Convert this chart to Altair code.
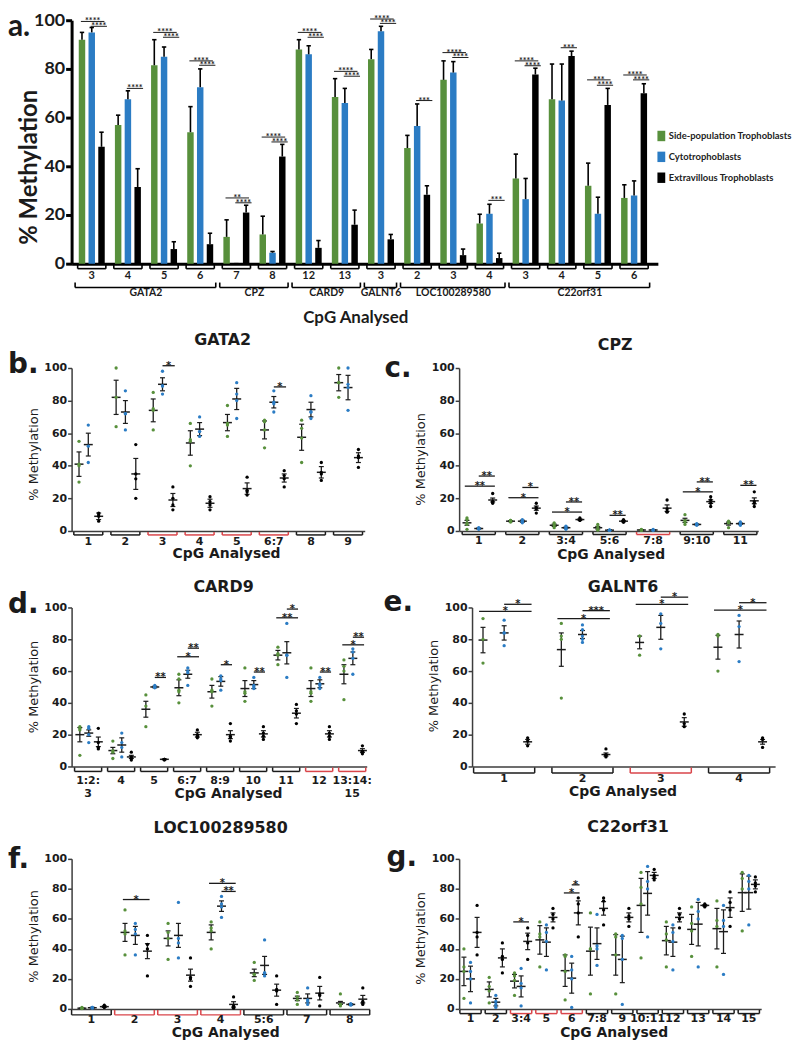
import altair as alt
import pandas as pd

SERIES = ["Side-population Trophoblasts", "Cytotrophoblasts", "Extravillous Trophoblasts"]
SERIES_COLORS = ["#58903c", "#2b7cc4", "#000000"]
HILITE = "#d9454a"
INK = "#1b1b1b"
AX = "#3d3d3d"
FA = "Lato"
FB = "DejaVu Sans"
YTICKS = [0, 20, 40, 60, 80, 100]

# ---------------- panel a : bar chart ----------------
A_GENES = ["GATA2", "CPZ", "CARD9", "GALNT6", "LOC100289580", "C22orf31"]
A_GENE_FIRST = [0, 4, 6, 8, 9, 12]
A_GENE_LAST = [3, 5, 7, 8, 11, 15]
A_CPG = ["3", "4", "5", "6", "7", "8", "12", "13", "3", "2", "3", "4", "3", "4", "5", "6"]
A_SP = [92, 57, 81.5, 54, 11, 12, 88, 68.5, 84, 47.5, 75.5, 16.5, 35, 67.5, 32, 27]
A_SP_ERR = [95, 61, 92, 64.5, 18, 19.5, 92, 76, 88, 52.7, 83.3, 20.3, 45, 82, 41.3, 32.4]
A_CT = [95, 67.5, 85, 72.5, 0, 4.5, 86, 66, 95.5, 56.5, 78.5, 20.5, 26.5, 67, 20.5, 28]
A_CT_ERR = [97, 71, 89, 80, 0, 5, 89.5, 72, 97.5, 65.6, 83, 24.4, 35, 82, 27.3, 34]
A_EVT = [48, 31.5, 6, 8, 21, 44, 6.5, 16, 10, 28.3, 3.5, 2.3, 77.7, 85.3, 65.2, 70]
A_EVT_ERR = [54, 39, 9, 12.5, 24, 49, 9.5, 22, 12, 32, 6, 4.3, 80.3, 87.3, 72, 73.9]
A_SIG_CPG = [0, 0, 1, 2, 2, 3, 3, 4, 4, 5, 5, 6, 6, 7, 7, 8, 8, 9, 10, 10, 11, 12, 12, 13, 14, 14, 15, 15]
A_SIG_PAIR = [0, 1, 1, 0, 1, 0, 1, 0, 1, 0, 1, 0, 1, 0, 1, 0, 1, 1, 0, 1, 1, 0, 1, 1, 0, 1, 0, 1]
A_SIG_Y = [99.5, 97.5, 72, 95, 93, 83.3, 81.5, 27, 25, 52, 50, 95, 93, 79, 77, 100.5, 98.7, 67,
           86.7, 84.7, 26, 83.3, 81.3, 88.7, 75.5, 73.3, 77.5, 75.5]
A_SIG_TXT = ["****", "****", "****", "****", "****", "****", "****", "**", "****", "****", "****",
             "****", "****", "****", "****", "****", "****", "***", "****", "****", "***", "****",
             "****", "***", "***", "****", "****", "****"]

# ---------------- panel b : GATA2 ----------------
B_CPG = ["1", "2", "3", "4", "5", "6:7", "8", "9"]
B_RED = [0, 0, 1, 1, 1, 1, 0, 0]
B_MEAN_SP = [41, 82, 74, 54, 66.5, 62, 57.5, 91]
B_SEM_SP = [7.5, 10.5, 7, 7.5, 5, 5.5, 8, 5]
B_MEAN_CT = [53, 73, 90, 62.5, 81, 79, 74.5, 88]
B_SEM_CT = [7, 7, 4, 4, 6.5, 3.5, 4.5, 7.5]
B_MEAN_EVT = [9, 35, 19, 17, 26, 32.5, 36, 45]
B_SEM_EVT = [2, 9.5, 4, 2.5, 3.5, 2.5, 3.5, 3]
B_PTS_SP = [[55, 30, 40, 41], [100, 64, 82], [85, 62, 74, 75], [66, 40, 55, 56], [77, 58, 65, 66],
            [68, 51, 62, 67], [68, 42, 57, 63], [100, 82, 91, 91]]
B_PTS_CT = [[65, 42, 52], [86, 62, 72, 72], [98, 84, 89, 89], [70, 58, 61, 61], [91, 69, 80, 84],
            [86, 73, 78, 79], [83, 69, 73, 73], [100, 74, 88, 90]]
B_PTS_EVT = [[11, 6, 9, 10], [53, 20, 35, 32], [27, 13, 16, 20], [21, 13, 16, 18], [33, 22, 24, 25],
             [37, 27, 32, 34], [42, 31, 35, 36], [50, 39, 45, 46]]
B_SIG_CPG = [2, 5]
B_SIG_PAIR = [1, 1]
B_SIG_Y = [101.4, 88.4]
B_SIG_TXT = ["*", "*"]

# ---------------- panel c : CPZ ----------------
C_CPG = ["1", "2", "3:4", "5:6", "7:8", "9:10", "11"]
C_RED = [0, 0, 0, 0, 1, 0, 0]
C_MEAN_SP = [5, 6, 3.5, 2, 0.6, 6.5, 4.5]
C_SEM_SP = [1.5, 0.3, 0.7, 0.8, 0.2, 1.3, 0.9]
C_MEAN_CT = [1.5, 6, 2, 0.5, 0.6, 4, 4.5]
C_SEM_CT = [0.3, 0.6, 0.4, 0.1, 0.2, 0.3, 0.4]
C_MEAN_EVT = [19, 14, 7, 6, 14, 18, 18.5]
C_SEM_EVT = [1.2, 1.3, 0.4, 0.4, 2, 1.1, 1.8]
C_PTS_SP = [[8, 7, 5, 1, 4], [6, 6.5, 5.5, 6.5], [5, 2, 4, 3], [4, 1, 2.5, 0.5], [1, 0.5, 0.3, 0.6],
            [10, 4, 5.5, 6.5], [6, 2, 5, 5]]
C_PTS_CT = [[2, 1, 1.5, 1.5], [5, 7, 6, 6], [1.5, 2.5, 3, 1], [0.5, 0.5, 0.5, 0.5], [0.5, 0.9, 0.4],
            [4, 3.5, 4.5, 4], [3.5, 5, 5.5, 4]]
C_PTS_EVT = [[23, 18, 17, 18], [17, 11, 13.5, 14.5], [8, 6.5, 7, 6.5], [7, 6, 5.5, 5.5],
             [19, 12, 11.5, 13.5], [15, 19, 17, 21], [24, 15, 17, 18]]
C_SIG_CPG = [0, 0, 1, 1, 2, 2, 3, 5, 5, 6]
C_SIG_PAIR = [0, 1, 0, 1, 0, 1, 1, 0, 1, 1]
C_SIG_Y = [27.5, 33.7, 20.4, 26.7, 11.6, 17.8, 9.6, 24, 30.1, 28]
C_SIG_TXT = ["**", "**", "*", "*", "*", "**", "**", "*", "**", "**"]

# ---------------- panel d : CARD9 ----------------
D_CPG = ["1:2:\n3", "4", "5", "6:7", "8:9", "10", "11", "12", "13:14:\n15"]
D_RED = [0, 0, 0, 0, 0, 0, 0, 1, 1]
D_MEAN_SP = [20, 10, 36, 49.5, 47, 49, 70, 49, 58]
D_SEM_SP = [4.5, 2, 5, 5, 4, 5, 3, 5, 6]
D_MEAN_CT = [21, 13.5, 50, 58, 53.5, 51.5, 71.5, 52, 68]
D_SEM_CT = [2, 4.5, 0.5, 2.5, 3, 2.5, 7, 2.5, 4]
D_MEAN_EVT = [15.5, 6, 4.5, 20, 20, 20.5, 33.5, 20.5, 10]
D_SEM_EVT = [3, 1, 0.3, 1.5, 2.5, 2, 3, 2, 1.2]
D_PTS_SP = [[25, 23, 7, 24], [16, 5, 9, 10], [45, 25, 38], [58, 40, 48, 55, 47], [55, 38, 48, 47],
            [62, 41, 46, 47], [75, 64, 70, 71], [62, 41, 46, 47], [67, 42, 60, 63]]
D_PTS_CT = [[24, 20, 15, 25], [21, 6, 12, 15], [50, 49.5, 51, 50], [62, 51, 59, 60], [57, 48, 54, 55],
            [56, 49, 51, 50], [90, 56, 70, 70], [56, 49, 52, 51], [74, 58, 68, 72]]
D_PTS_EVT = [[24, 12, 11, 15], [9, 4, 6, 5], [4.5, 4, 4.5, 4.5], [23, 18, 20, 19], [27, 16, 19, 18],
             [25, 17, 19, 21], [39, 27, 33, 35], [25, 17, 19, 21], [13, 8, 9.5, 9.5]]
D_SIG_CPG = [2, 3, 3, 4, 5, 6, 6, 7, 8, 8]
D_SIG_PAIR = [1, 0, 1, 1, 1, 0, 1, 1, 0, 1]
D_SIG_Y = [56, 69, 74.4, 64, 59.4, 93.5, 99, 59.4, 76.5, 81.3]
D_SIG_TXT = ["**", "*", "**", "*", "**", "**", "*", "**", "*", "**"]

# ---------------- panel e : GALNT6 ----------------
E_CPG = ["1", "2", "3", "4"]
E_RED = [0, 0, 1, 0]
E_MEAN_SP = [79.5, 73.5, 78, 75]
E_SEM_SP = [8, 10.5, 4, 7.5]
E_MEAN_CT = [84, 83, 87.5, 83]
E_SEM_CT = [4.5, 2.5, 7.5, 8.5]
E_MEAN_EVT = [15.5, 7.5, 28, 15.5]
E_SEM_EVT = [1.5, 1, 2.7, 1.5]
E_PTS_SP = [[93, 65, 80], [90, 43, 80, 82], [82, 70, 82], [83, 60, 82]]
E_PTS_CT = [[92, 76, 84, 84], [89, 78, 82, 86, 80], [96, 74, 90], [95, 66, 88]]
E_PTS_EVT = [[18, 13, 16], [11, 6, 7, 7.5], [33, 25, 27], [18, 12, 17]]
E_SIG_CPG = [0, 0, 1, 1, 2, 2, 3, 3]
E_SIG_PAIR = [0, 1, 0, 1, 0, 1, 0, 1]
E_SIG_Y = [97.5, 102, 93, 98, 102, 106.5, 98.3, 103]
E_SIG_TXT = ["*", "*", "*", "***", "*", "*", "*", "*"]

# ---------------- panel f : LOC100289580 ----------------
F_CPG = ["1", "2", "3", "4", "5:6", "7", "8"]
F_RED = [0, 1, 1, 1, 0, 0, 0]
F_MEAN_SP = [0.5, 51, 47, 51, 24, 7, 4]
F_SEM_SP = [0.3, 6, 5, 5, 2.5, 1.5, 1]
F_MEAN_CT = [0.8, 49, 49, 68.5, 29, 7, 3]
F_SEM_CT = [0.3, 6, 8, 3.5, 6, 3, 0.5]
F_MEAN_EVT = [1.5, 38.5, 22.5, 3, 12.5, 10.5, 6.5]
F_SEM_EVT = [0.5, 5, 4, 1.8, 4, 4.5, 2.5]
F_PTS_SP = [[1, 0.5, 0.2, 0.5], [66, 36, 50, 52], [57, 33, 47, 51], [58, 40, 52, 54], [31, 19, 23, 23],
            [11, 3, 6, 8], [10, 2, 3, 3]]
F_PTS_CT = [[1, 0.5, 1], [57, 36, 50, 53], [71, 34, 44, 47], [75, 61, 68, 70], [46, 22, 24, 24],
            [14, 3, 5, 6], [2.5, 3, 3.5, 3]]
F_PTS_EVT = [[2.5, 1, 1.5, 1.2], [49, 22, 40, 43], [34, 15, 20, 21], [8, 0.5, 2, 1.5], [22, 3, 12, 13],
             [21, 2, 9, 10], [14, 3, 4, 5]]
F_SIG_CPG = [1, 3, 3]
F_SIG_PAIR = [0, 0, 1]
F_SIG_Y = [72.9, 83.7, 78.3]
F_SIG_TXT = ["*", "*", "**"]

# ---------------- panel g : C22orf31 ----------------
G_CPG = ["1", "2", "3:4", "5", "6", "7:8", "9", "10:11", "12", "13", "14", "15"]
G_RED = [0, 0, 1, 1, 1, 0, 0, 0, 0, 0, 0, 0]
G_MEAN_SP = [25, 13, 18.5, 46, 25.5, 38.5, 36, 69, 45.5, 53, 53.5, 77.5]
G_SEM_SP = [9.5, 5, 4.5, 9.5, 10.5, 16, 13.5, 18, 9.5, 10, 13.5, 12.5]
G_MEAN_CT = [20, 4.5, 15, 44.5, 20.5, 43.5, 33, 77, 44.5, 56.5, 51.5, 77.5]
G_SEM_CT = [8.5, 2.5, 7, 9.5, 10, 10.5, 15.5, 14.5, 9.5, 14.5, 14.5, 11]
G_MEAN_EVT = [51, 34, 45, 61, 64, 67, 61, 89, 61, 69, 67.5, 83]
G_SEM_EVT = [10, 6, 5.5, 3, 8, 4.5, 3, 2, 3, 0.5, 6.5, 3]
G_PTS_SP = [[40, 7, 25, 28], [21, 4, 12, 15], [24, 9, 19, 22], [58, 28, 48, 50], [36, 6, 25, 35],
            [64, 10, 40, 40], [50, 10, 36, 48], [91, 34, 70, 81], [58, 28, 46, 50], [68, 35, 52, 57],
            [72, 28, 55, 59], [91, 52, 80, 87]]
G_PTS_CT = [[31, 4, 20, 25], [9, 1, 3, 5], [27, 2, 14, 17], [56, 26, 45, 51], [35, 1, 20, 26],
            [63, 29, 40, 42], [49, 3, 33, 47], [95, 48, 80, 85], [56, 26, 45, 51], [73, 28, 60, 65],
            [69, 23, 55, 59], [89, 56, 80, 85]]
G_PTS_EVT = [[69, 36, 48, 51], [44, 24, 33, 35], [54, 33, 44, 49], [67, 54, 60, 63], [74, 48, 64, 70],
             [74, 56, 66, 72], [67, 55, 60, 62], [93, 86, 89, 88], [67, 54, 60, 63], [70, 68, 69, 69],
             [78, 55, 66, 71], [88, 78, 82, 84]]
G_SIG_CPG = [2, 4, 4]
G_SIG_PAIR = [0, 0, 1]
G_SIG_Y = [58, 77.3, 82.7]
G_SIG_TXT = ["*", "*", "*"]


def label(text, x, y, size, font, weight="bold", align="center", angle=0, baseline="alphabetic", color=INK):
    return alt.Chart(pd.DataFrame({"t": [text]})).mark_text(
        font=font, fontSize=size, fontWeight=weight, align=align, baseline=baseline,
        angle=angle, color=color
    ).encode(x=alt.value(x), y=alt.value(y), text="t:N")


def scatter_panel(letter, gene, cpg, red, means, sems, pts, sig, lay):
    W, H = lay["w"], lay["h"]
    n = len(cpg)
    offs = lay["offs"]
    xs = alt.Scale(domain=lay["xdom"], nice=False, zero=False)
    ys = alt.Scale(domain=[0, 100], nice=False, zero=False)
    xax = alt.Axis(labels=False, ticks=False, grid=False, title=None, domainColor=AX, domainWidth=1.5)
    yax = alt.Axis(values=YTICKS, grid=False, title=None, domainColor=AX, domainWidth=1.5,
                   tickColor=AX, tickWidth=1.5, tickSize=4, labelFont=FB, labelFontSize=11,
                   labelFontWeight="bold", labelColor=INK, labelPadding=1)

    def X(f):
        return alt.X(f, scale=xs, axis=xax)

    def Y(f):
        return alt.Y(f, scale=ys, axis=yax)

    prow, mrow = [], []
    for si, s in enumerate(SERIES):
        for gi in range(n):
            for v in pts[si][gi]:
                prow.append({"x": gi + offs[si], "y": v, "s": s})
            m, e = means[si][gi], sems[si][gi]
            mrow.append({"x": gi + offs[si], "m": m, "lo": m - e, "hi": m + e})
    pdf = pd.DataFrame(prow)
    mdf = pd.DataFrame(mrow)
    hw = lay["half"]
    bdf = pd.DataFrame({
        "x1": [i - hw for i in range(n)], "x2": [i + hw for i in range(n)],
        "xc": list(range(n)), "y0": [0] * n, "lab": cpg,
        "col": [HILITE if r else INK for r in red],
    })
    sc, sp, sy, st = sig
    sdf = pd.DataFrame({
        "x1": [g + offs[p] - (0.05 if p == 0 else 0.0) for g, p in zip(sc, sp)],
        "x2": [g + offs[2] + 0.05 for g in sc],
        "y": sy, "txt": st,
    })
    sdf["xc"] = (sdf["x1"] + sdf["x2"]) / 2

    dots = alt.Chart(pdf).mark_circle(size=11, opacity=1).encode(
        x=X("x:Q"), y=Y("y:Q"),
        color=alt.Color("s:N", scale=alt.Scale(domain=SERIES, range=SERIES_COLORS), legend=None))
    semr = alt.Chart(mdf).mark_rule(color=INK, strokeWidth=1.3).encode(
        x=X("x:Q"), y=Y("lo:Q"), y2="hi:Q")
    meanr = alt.Chart(mdf).mark_rule(color=INK, strokeWidth=1.5, xOffset=-4.5, x2Offset=4.5).encode(
        x=X("x:Q"), x2="x:Q", y=Y("m:Q"))
    caplo = alt.Chart(mdf).mark_rule(color=INK, strokeWidth=1.2, xOffset=-2.5, x2Offset=2.5).encode(
        x=X("x:Q"), x2="x:Q", y=Y("lo:Q"))
    caphi = alt.Chart(mdf).mark_rule(color=INK, strokeWidth=1.2, xOffset=-2.5, x2Offset=2.5).encode(
        x=X("x:Q"), x2="x:Q", y=Y("hi:Q"))
    brh = alt.Chart(bdf).mark_rule(strokeWidth=1.5, yOffset=lay["br"]).encode(
        x=X("x1:Q"), x2="x2:Q", y=Y("y0:Q"), stroke=alt.Stroke("col:N", scale=None))
    brl = alt.Chart(bdf).mark_rule(strokeWidth=1.5, yOffset=1, y2Offset=lay["br"]).encode(
        x=X("x1:Q"), y=Y("y0:Q"), y2="y0:Q", stroke=alt.Stroke("col:N", scale=None))
    brr = alt.Chart(bdf).mark_rule(strokeWidth=1.5, yOffset=1, y2Offset=lay["br"]).encode(
        x=X("x2:Q"), y=Y("y0:Q"), y2="y0:Q", stroke=alt.Stroke("col:N", scale=None))
    labs = alt.Chart(bdf).mark_text(font=FB, fontSize=11, fontWeight="bold", color=INK,
                                    baseline="alphabetic", dy=lay["lab"], lineBreak="\n").encode(
        x=X("xc:Q"), y=Y("y0:Q"), text="lab:N")
    sigr = alt.Chart(sdf).mark_rule(color=INK, strokeWidth=1.3).encode(
        x=X("x1:Q"), x2="x2:Q", y=Y("y:Q"))
    sigt = alt.Chart(sdf).mark_text(font=FB, fontSize=10, fontWeight="bold", color=INK,
                                    baseline="alphabetic", dy=3).encode(
        x=X("xc:Q"), y=Y("y:Q"), text="txt:N")

    layers = [brh, brl, brr, labs, semr, meanr, caplo, caphi, dots, sigr, sigt,
              label(gene, lay["tx"], lay["ty"], 16, FB),
              label(letter, lay["lx"], lay["ly"], 28, FB, align="left"),
              label("% Methylation", -38, lay["yty"], 13, FB, weight="normal", angle=270, baseline="middle"),
              label("CpG Analysed", lay["xtx"], H + lay["xty"], 14, FB)]
    return alt.layer(*layers).properties(width=W, height=H)


def panel_a():
    W, H = 590, 245
    n = len(A_CPG)
    offs = (-0.27, 0.0, 0.27)
    xs = alt.Scale(domain=[-0.42, 15.52], nice=False, zero=False)
    ys = alt.Scale(domain=[0, 100], nice=False, zero=False)
    xax = alt.Axis(labels=False, ticks=False, grid=False, title=None, domainColor="black", domainWidth=3)
    yax = alt.Axis(values=YTICKS, grid=False, title=None, domainColor="black", domainWidth=3,
                   tickColor="black", tickWidth=3, tickSize=6, labelFont=FA, labelFontSize=18,
                   labelFontWeight="bold", labelColor=INK, labelPadding=1)

    def X(f):
        return alt.X(f, scale=xs, axis=xax)

    def Y(f, **kw):
        return alt.Y(f, scale=ys, axis=yax, **kw)

    vals = [A_SP, A_CT, A_EVT]
    errs = [A_SP_ERR, A_CT_ERR, A_EVT_ERR]
    rows = []
    for si, s in enumerate(SERIES):
        for gi in range(n):
            rows.append({"x": gi + offs[si], "v": vals[si][gi], "e": errs[si][gi], "s": s})
    df = pd.DataFrame(rows)
    bdf = pd.DataFrame({"x1": [i - 0.39 for i in range(n)], "x2": [i + 0.39 for i in range(n)],
                        "xc": list(range(n)), "y0": [0] * n, "lab": A_CPG})
    gdf = pd.DataFrame({"x1": [f - 0.46 for f in A_GENE_FIRST], "x2": [l + 0.43 for l in A_GENE_LAST],
                        "xc": [(f + l) / 2 for f, l in zip(A_GENE_FIRST, A_GENE_LAST)],
                        "y0": [0] * len(A_GENES), "lab": A_GENES})
    sdf = pd.DataFrame({
        "x1": [g + (-0.3 if p == 0 else -0.03) for g, p in zip(A_SIG_CPG, A_SIG_PAIR)],
        "x2": [g + (0.35 if p == 0 else 0.42) for g, p in zip(A_SIG_CPG, A_SIG_PAIR)],
        "y": A_SIG_Y, "txt": A_SIG_TXT})
    sdf["xc"] = (sdf["x1"] + sdf["x2"]) / 2

    legend = alt.Legend(orient="none", legendX=588, legendY=111, title=None, labelFont=FA,
                        labelFontSize=9.5, labelFontWeight="bold", labelColor="#222",
                        symbolType="M-0.75,-1L0.75,-1L0.75,1L-0.75,1Z", symbolSize=110,
                        symbolStrokeWidth=0, rowPadding=10, labelOffset=2, padding=0)
    bars = alt.Chart(df).mark_bar(size=6.5, orient="vertical").encode(
        x=X("x:Q"), y=Y("v:Q", stack=None),
        color=alt.Color("s:N", scale=alt.Scale(domain=SERIES, range=SERIES_COLORS), legend=legend))
    err = alt.Chart(df).mark_rule(color="black", strokeWidth=1.6).encode(x=X("x:Q"), y=Y("v:Q"), y2="e:Q")
    cap = alt.Chart(df).mark_rule(color="black", strokeWidth=1.6, xOffset=-2.2, x2Offset=2.2).encode(
        x=X("x:Q"), x2="x:Q", y=Y("e:Q"))
    sigr = alt.Chart(sdf).mark_rule(color=INK, strokeWidth=1).encode(x=X("x1:Q"), x2="x2:Q", y=Y("y:Q"))
    sigt = alt.Chart(sdf).mark_text(font=FA, fontSize=9, fontWeight="bold", color=INK,
                                    baseline="alphabetic", dy=3).encode(x=X("xc:Q"), y=Y("y:Q"), text="txt:N")
    brh = alt.Chart(bdf).mark_rule(color="black", strokeWidth=1.6, yOffset=5).encode(
        x=X("x1:Q"), x2="x2:Q", y=Y("y0:Q"))
    brl = alt.Chart(bdf).mark_rule(color="black", strokeWidth=1.6, yOffset=1, y2Offset=5).encode(
        x=X("x1:Q"), y=Y("y0:Q"), y2="y0:Q")
    brr = alt.Chart(bdf).mark_rule(color="black", strokeWidth=1.6, yOffset=1, y2Offset=5).encode(
        x=X("x2:Q"), y=Y("y0:Q"), y2="y0:Q")
    labs = alt.Chart(bdf).mark_text(font=FA, fontSize=11, fontWeight="bold", color=INK,
                                    baseline="alphabetic", dy=15).encode(x=X("xc:Q"), y=Y("y0:Q"), text="lab:N")
    gh = alt.Chart(gdf).mark_rule(color="black", strokeWidth=1.6, yOffset=24).encode(
        x=X("x1:Q"), x2="x2:Q", y=Y("y0:Q"))
    gl = alt.Chart(gdf).mark_rule(color="black", strokeWidth=1.6, yOffset=19, y2Offset=24).encode(
        x=X("x1:Q"), y=Y("y0:Q"), y2="y0:Q")
    gr = alt.Chart(gdf).mark_rule(color="black", strokeWidth=1.6, yOffset=19, y2Offset=24).encode(
        x=X("x2:Q"), y=Y("y0:Q"), y2="y0:Q")
    glab = alt.Chart(gdf).mark_text(font=FA, fontSize=10.5, fontWeight="bold", color=INK,
                                    baseline="alphabetic", dy=33).encode(x=X("xc:Q"), y=Y("y0:Q"), text="lab:N")
    layers = [bars, err, cap, sigr, sigt, brh, brl, brr, labs, gh, gl, gr, glab,
              label("a.", -64, 16, 30, FA, align="left"),
              label("% Methylation", -42, 148, 24, FA, angle=270, baseline="middle"),
              label("CpG Analysed", 286, H + 60, 17, FA)]
    return alt.layer(*layers).properties(width=W, height=H)


def indep(c):
    return c.resolve_scale(color="independent").resolve_legend(color="independent")


lay_b = dict(w=295, h=164, xdom=[-0.45, 7.45], offs=(-0.25, 0.0, 0.28), half=0.39, br=4, lab=14,
             lx=-64, ly=5, tx=152, ty=-23, yty=87, xtx=156, xty=27)
lay_c = dict(w=301, h=164, xdom=[-0.45, 6.41], offs=(-0.27, 0.0, 0.32), half=0.38, br=3.5, lab=13,
             lx=-75, ly=9, tx=157, ty=-18, yty=92, xtx=153, xty=28)
lay_d = dict(w=297, h=160, xdom=[-0.5, 8.44], offs=(-0.25, 0.02, 0.31), half=0.41, br=5, lab=18,
             lx=-64, ly=6, tx=153, ty=-16, yty=80, xtx=158, xty=32)
lay_e = dict(w=305, h=160, xdom=[-0.41, 3.46], offs=(-0.27, 0.0, 0.3), half=0.39, br=6.5, lab=16,
             lx=-89, ly=4, tx=152, ty=-16, yty=79, xtx=152, xty=30)
lay_f = dict(w=300, h=151, xdom=[-0.46, 6.46], offs=(-0.22, 0.02, 0.3), half=0.46, br=6, lab=14,
             lx=-64, ly=9, tx=150, ty=-26, yty=78, xtx=155, xty=28)
lay_g = dict(w=304, h=151, xdom=[-0.45, 11.49], offs=(-0.26, 0.0, 0.26), half=0.42, br=4.7, lab=13,
             lx=-73, ly=7, tx=170, ty=-27, yty=80, xtx=156, xty=28)

pb = scatter_panel("b.", "GATA2", B_CPG, B_RED, [B_MEAN_SP, B_MEAN_CT, B_MEAN_EVT],
                   [B_SEM_SP, B_SEM_CT, B_SEM_EVT], [B_PTS_SP, B_PTS_CT, B_PTS_EVT],
                   (B_SIG_CPG, B_SIG_PAIR, B_SIG_Y, B_SIG_TXT), lay_b)
pc = scatter_panel("c.", "CPZ", C_CPG, C_RED, [C_MEAN_SP, C_MEAN_CT, C_MEAN_EVT],
                   [C_SEM_SP, C_SEM_CT, C_SEM_EVT], [C_PTS_SP, C_PTS_CT, C_PTS_EVT],
                   (C_SIG_CPG, C_SIG_PAIR, C_SIG_Y, C_SIG_TXT), lay_c)
pd_ = scatter_panel("d.", "CARD9", D_CPG, D_RED, [D_MEAN_SP, D_MEAN_CT, D_MEAN_EVT],
                    [D_SEM_SP, D_SEM_CT, D_SEM_EVT], [D_PTS_SP, D_PTS_CT, D_PTS_EVT],
                    (D_SIG_CPG, D_SIG_PAIR, D_SIG_Y, D_SIG_TXT), lay_d)
pe = scatter_panel("e.", "GALNT6", E_CPG, E_RED, [E_MEAN_SP, E_MEAN_CT, E_MEAN_EVT],
                   [E_SEM_SP, E_SEM_CT, E_SEM_EVT], [E_PTS_SP, E_PTS_CT, E_PTS_EVT],
                   (E_SIG_CPG, E_SIG_PAIR, E_SIG_Y, E_SIG_TXT), lay_e)
pf = scatter_panel("f.", "LOC100289580", F_CPG, F_RED, [F_MEAN_SP, F_MEAN_CT, F_MEAN_EVT],
                   [F_SEM_SP, F_SEM_CT, F_SEM_EVT], [F_PTS_SP, F_PTS_CT, F_PTS_EVT],
                   (F_SIG_CPG, F_SIG_PAIR, F_SIG_Y, F_SIG_TXT), lay_f)
pg = scatter_panel("g.", "C22orf31", G_CPG, G_RED, [G_MEAN_SP, G_MEAN_CT, G_MEAN_EVT],
                   [G_SEM_SP, G_SEM_CT, G_SEM_EVT], [G_PTS_SP, G_PTS_CT, G_PTS_EVT],
                   (G_SIG_CPG, G_SIG_PAIR, G_SIG_Y, G_SIG_TXT), lay_g)

row_a = panel_a()
row_b = indep(alt.hconcat(pb, pc, spacing=20))
row_d = indep(alt.hconcat(pd_, pe, spacing=11))
row_f = indep(alt.hconcat(pf, pg, spacing=16))
top = indep(alt.vconcat(row_a, row_b, spacing=6))
bottom = indep(alt.vconcat(row_d, row_f, spacing=18))
chart = indep(alt.vconcat(top, bottom, spacing=17)).properties(
    padding={"left": 0, "top": 0, "right": 0, "bottom": 0}, background="white"
).configure_view(stroke=None)

chart.save("out.html", embed_options={"renderer": "svg", "actions": False})
